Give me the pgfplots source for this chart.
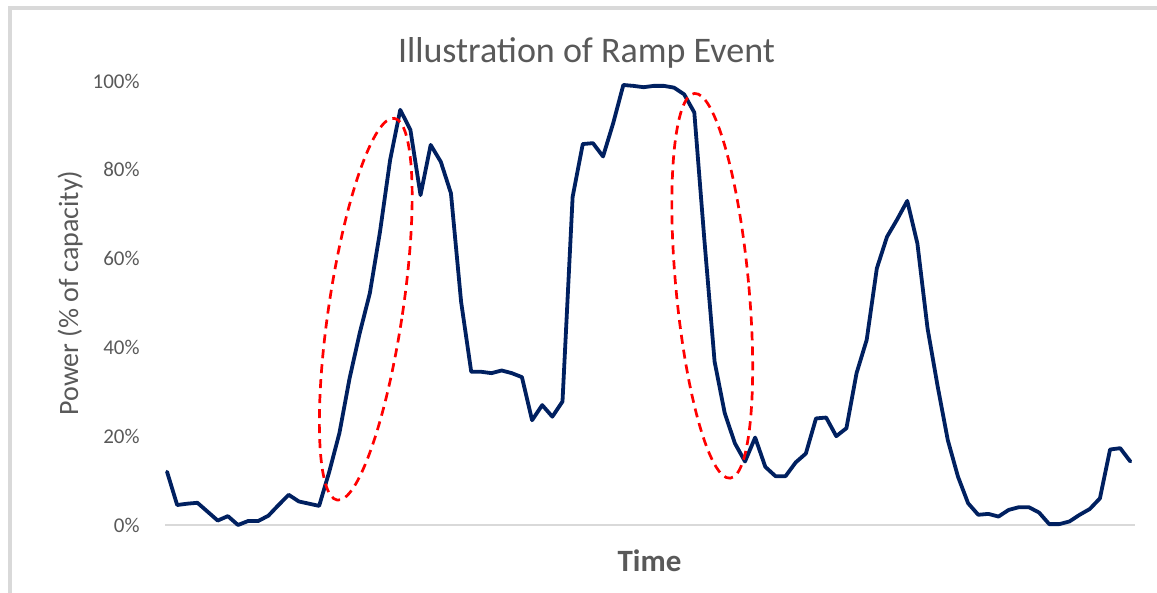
\documentclass[border=0pt]{standalone}
\usepackage{pgfplots}
\pgfplotsset{compat=1.18}
\usepackage{fontspec}
\setmainfont{Carlito}
\definecolor{navy}{HTML}{002060}
\definecolor{txtgray}{HTML}{595959}
\definecolor{linegray}{HTML}{D9D9D9}
\begin{document}
\begin{tikzpicture}
% 1 px of the reference = 0.5pt
\path[use as bounding box] (0,0) rectangle (578.5pt,296.5pt);
\draw[linegray, line width=2pt] (5.1pt,-2pt) -- (5.1pt,292.3pt) -- (580pt,292.3pt);
\begin{axis}[
    at={(82.5pt,34pt)}, anchor=south west,
    scale only axis,
    width=485pt, height=222pt,
    xmin=-0.2, xmax=95.46,
    ymin=0, ymax=100,
    enlargelimits=false,
    clip=false,
    axis x line*=bottom, axis y line*=left,
    x axis line style={draw=linegray, line width=1pt, -},
    y axis line style={draw=none},
    xtick=\empty,
    ytick={0,20,40,60,80,100},
    yticklabels={0\%,20\%,40\%,60\%,80\%,100\%},
    major tick length=0pt,
    yticklabel style={anchor=east, inner sep=0pt, xshift=-12.5pt,
        font=\fontsize{10.5}{12}\selectfont, text=txtgray},
    /pgf/number format/assume math mode=true,
]
% power series
\addplot[navy, line width=1.9pt, line join=round, line cap=round] coordinates {
(0,12.0) (1,4.5) (2,4.8) (3,5.0) (4,3.0) (5,1.0) (6,2.0) (7,0.0) (8,0.9) (9,0.9)
(10,2.1) (11,4.5) (12,6.8) (13,5.3) (14,4.8) (15,4.3) (16,12.0) (17,20.7) (18,33.0) (19,43.2)
(20,52.2) (21,66.0) (22,82.2) (23,93.5) (24,89.0) (25,74.3) (26,85.6) (27,81.8) (28,74.7) (29,50.3)
(30,34.5) (31,34.5) (32,34.2) (33,34.8) (34,34.2) (35,33.3) (36,23.6) (37,27.0) (38,24.4) (39,27.8)
(40,73.9) (41,85.8) (42,86.0) (43,83.0) (44,90.5) (45,99.1) (46,98.9) (47,98.6) (48,98.9) (49,98.9)
(50,98.5) (51,97.0) (52,92.9) (53,64.0) (54,36.8) (55,25.2) (56,18.4) (57,14.3) (58,19.7) (59,13.1)
(60,11.0) (61,11.0) (62,14.1) (63,16.1) (64,24.0) (65,24.2) (66,20.0) (67,21.8) (68,34.2) (69,41.7)
(70,57.8) (71,64.9) (72,68.8) (73,73.0) (74,63.4) (75,44.3) (76,31.2) (77,19.1) (78,10.9) (79,4.9)
(80,2.3) (81,2.5) (82,1.9) (83,3.4) (84,4.0) (85,4.0) (86,2.8) (87,0.2) (88,0.2) (89,0.8)
(90,2.3) (91,3.6) (92,6.0) (93,17.0) (94,17.3) (95,14.3)
};
% ramp event markers
\draw[red, line width=1.35pt, dash pattern=on 4.5pt off 3pt, rotate around={-8.5:(axis cs:19.6,48.6)}]
    (axis cs:19.6,48.6) ellipse [x radius=18.5pt, y radius=96.5pt];
\draw[red, line width=1.35pt, dash pattern=on 4.5pt off 3pt, rotate around={5.3:(axis cs:53.77,53.87)}]
    (axis cs:53.77,53.87) ellipse [x radius=18.2pt, y radius=96.6pt];
\end{axis}
\node[anchor=base, text=txtgray, font=\fontsize{18}{21}\selectfont] at (293.25pt,265pt) {Illustration of Ramp Event};
\node[anchor=base, text=txtgray, font=\fontsize{15.5}{18}\selectfont\bfseries] at (324.75pt,10.7pt) {Time};
\node[anchor=base, rotate=90, text=txtgray, font=\fontsize{14}{16}\selectfont] at (39pt,150pt) {Power (\% of capacity)};
\end{tikzpicture}
\end{document}
